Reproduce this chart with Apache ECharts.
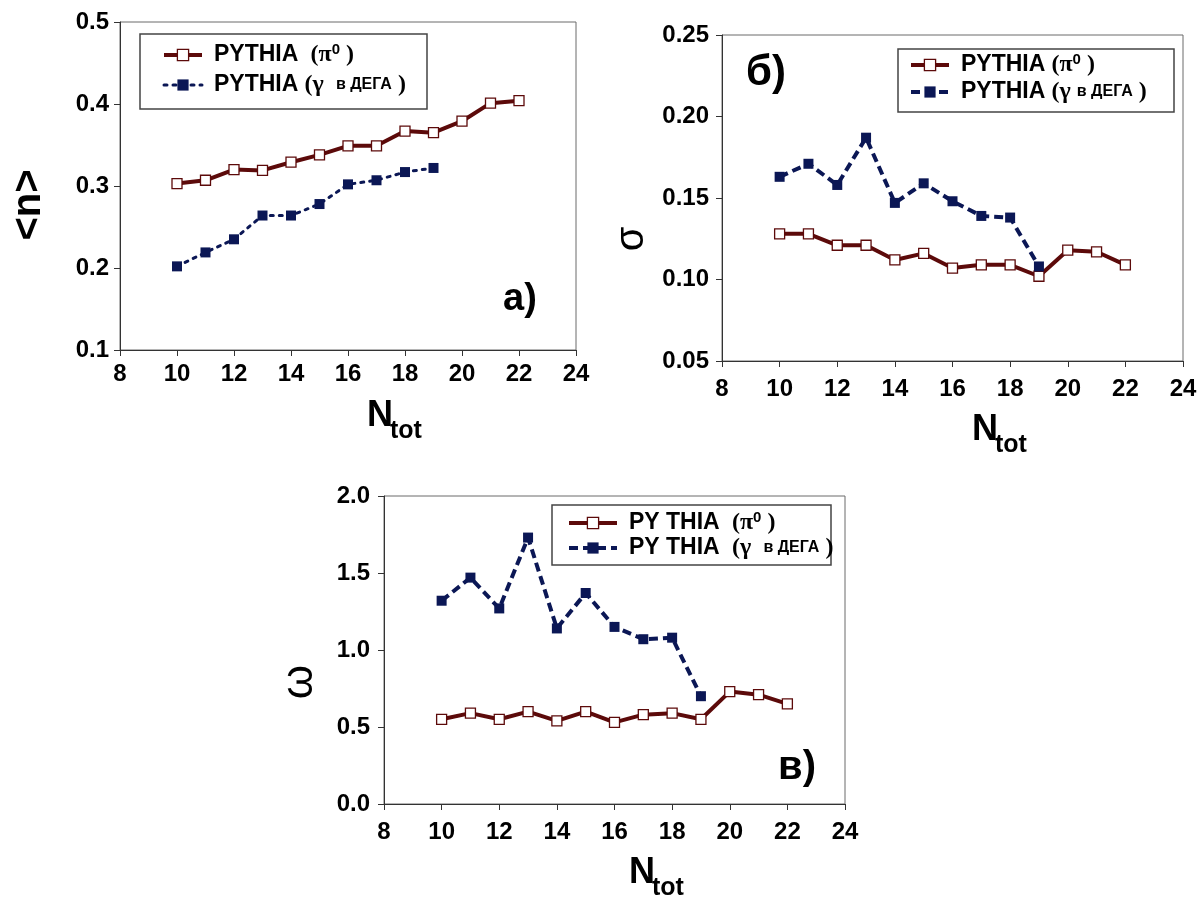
<!DOCTYPE html>
<html>
<head>
<meta charset="utf-8">
<script src="https://cdn.jsdelivr.net/npm/echarts@6/dist/echarts.min.js"></script>
<style>
  html, body { margin: 0; padding: 0; background: #ffffff; }
  #chart { width: 1200px; height: 897px; }
</style>
</head>
<body>
<div id="chart"></div>
<script>
// Multiplicity N_tot for both samples
const nTotPi = [10, 11, 12, 13, 14, 15, 16, 17, 18, 19, 20, 21, 22];
const nTotGamma = [10, 11, 12, 13, 14, 15, 16, 17, 18, 19];

// а) mean <n>
const meanPi = [0.303, 0.307, 0.320, 0.319, 0.329, 0.338, 0.349, 0.349, 0.367, 0.365, 0.379, 0.401, 0.404];
const meanGamma = [0.202, 0.219, 0.235, 0.264, 0.264, 0.278, 0.302, 0.307, 0.317, 0.322];

// б) dispersion σ
const sigmaPi = [0.128, 0.128, 0.121, 0.121, 0.112, 0.116, 0.107, 0.109, 0.109, 0.102, 0.118, 0.117, 0.109];
const sigmaGamma = [0.163, 0.171, 0.158, 0.187, 0.147, 0.159, 0.148, 0.139, 0.138, 0.108];

// в) scaled variance ω
const omegaPi = [0.55, 0.59, 0.55, 0.60, 0.54, 0.60, 0.53, 0.58, 0.59, 0.55, 0.73, 0.71, 0.65];
const omegaGamma = [1.32, 1.47, 1.27, 1.73, 1.14, 1.37, 1.15, 1.07, 1.08, 0.70];

// Axis ranges: [min, max, step]
const xRange = [8, 24, 2];
const yRangeMean = [0.1, 0.5, 0.1];
const yRangeSigma = [0.05, 0.25, 0.05];
const yRangeOmega = [0, 2, 0.5];

const seriesNames = ['PYTHIA (π0)', 'PYTHIA (γ в ДЕГА)'];
const panelLabels = ['а)', 'б)', 'в)'];
const yTitles = ['<n>', 'σ', 'ω'];

const FONT = '"Liberation Sans", Arial, Helvetica, sans-serif';
const SERIF = '"Liberation Serif", "Times New Roman", serif';
const PI_COLOR = '#5c0a0a';
const GAMMA_COLOR = '#0b1755';

const pairs = (xs, ys) => xs.map((x, i) => [x, ys[i]]);

const legendRich = {
  p: { fontFamily: FONT, fontWeight: 'bold', fontSize: 23, lineHeight: 26, color: '#000' },
  g: { fontFamily: SERIF, fontWeight: 'bold', fontSize: 24, lineHeight: 26, color: '#000' },
  sup: { fontFamily: FONT, fontWeight: 'bold', fontSize: 15, lineHeight: 14, verticalAlign: 'top', color: '#000' },
  c: { fontFamily: FONT, fontWeight: 'bold', fontSize: 16, lineHeight: 26, color: '#000' }
};

const panels = [
  {
    grid: { left: 120, top: 22, width: 456, height: 328 },
    yRange: yRangeMean, dec: 1, pi: meanPi, gamma: meanGamma,
    gammaDash: [3, 6], gammaWidth: 3, gammaCap: 'round',
    xMargin: 12, yMargin: 11,
    legend: { left: 162, top: 42, gap: 6, itemWidth: 38 },
    legendFmt: [
      '{p|PYTHIA}  {g|(π}{sup|0}{g| )}',
      '{p|PYTHIA} {g|(γ}  {c|в ДЕГА} {g|)}'
    ],
    box: [140, 34, 287, 75],
    yTitle: { x: 29, y: 205, font: 'bold 40px ' + FONT },
    panelLabel: { x: 520, y: 300, size: 38 },
    ntot: { nx: 367, ny: 416, tx: 390, ty: 431 }
  },
  {
    grid: { left: 722, top: 35, width: 461, height: 326 },
    yRange: yRangeSigma, dec: 2, pi: sigmaPi, gamma: sigmaGamma,
    gammaDash: [9, 5], gammaWidth: 4, gammaCap: 'butt',
    xMargin: 16, yMargin: 13,
    legend: { left: 909, top: 52, gap: 3, itemWidth: 38 },
    legendFmt: [
      '{p|PYTHIA} {g|(π}{sup|0}{g| )}',
      '{p|PYTHIA} {g|(γ} {c|в ДЕГА} {g|)}'
    ],
    box: [898, 49, 276, 63],
    yTitle: { x: 632, y: 239, font: 'normal 40px ' + FONT },
    panelLabel: { x: 766, y: 73, size: 42 },
    ntot: { nx: 972, ny: 430, tx: 995, ty: 445 }
  },
  {
    grid: { left: 384, top: 496, width: 461, height: 308 },
    yRange: yRangeOmega, dec: 1, pi: omegaPi, gamma: omegaGamma,
    gammaDash: [9, 5], gammaWidth: 4, gammaCap: 'butt',
    xMargin: 16, yMargin: 14,
    legend: { left: 567, top: 510, gap: 1, itemWidth: 48 },
    legendFmt: [
      '{p|PY THIA}  {g|(π}{sup|0}{g| )}',
      '{p|PY THIA}  {g|(γ}  {c|в ДЕГА} {g|)}'
    ],
    box: [552, 505, 279, 60],
    yTitle: { x: 300, y: 682, font: 'normal 44px ' + FONT },
    panelLabel: { x: 797, y: 768, size: 40 },
    ntot: { nx: 629, ny: 873, tx: 652, ty: 888 }
  }
];

const grid = [], xAxis = [], yAxis = [], series = [], legend = [], graphic = [];

panels.forEach((pn, k) => {
  grid.push(Object.assign({ show: true, borderColor: '#6a6a6a', borderWidth: 1, backgroundColor: 'transparent' }, pn.grid));

  const tickFont = { color: '#000', fontFamily: FONT, fontWeight: 'bold', fontSize: 24 };

  xAxis.push({
    type: 'value', gridIndex: k,
    min: xRange[0], max: xRange[1], interval: xRange[2],
    splitLine: { show: false },
    axisLine: { show: true, onZero: false, lineStyle: { color: '#333', width: 1 } },
    axisTick: { show: true, inside: false, length: 6, lineStyle: { color: '#333' } },
    axisLabel: Object.assign({ margin: pn.xMargin, showMinLabel: true, showMaxLabel: true }, tickFont)
  });

  yAxis.push({
    type: 'value', gridIndex: k,
    min: pn.yRange[0], max: pn.yRange[1], interval: pn.yRange[2],
    splitLine: { show: false },
    axisLine: { show: true, onZero: false, lineStyle: { color: '#333', width: 1 } },
    axisTick: { show: true, inside: false, length: 6, lineStyle: { color: '#333' } },
    axisLabel: Object.assign({ margin: pn.yMargin, showMinLabel: true, showMaxLabel: true,
                               formatter: v => Number(v).toFixed(pn.dec) }, tickFont)
  });

  const piLine = { color: PI_COLOR, width: 4 };
  const gammaLine = { color: GAMMA_COLOR, width: pn.gammaWidth, type: pn.gammaDash, cap: pn.gammaCap };

  series.push({
    name: seriesNames[0], type: 'line', xAxisIndex: k, yAxisIndex: k,
    data: pairs(nTotPi, pn.pi),
    symbol: 'rect', symbolSize: 10, showAllSymbol: true,
    lineStyle: piLine,
    itemStyle: { color: '#ffffff', borderColor: PI_COLOR, borderWidth: 1.3 },
    emphasis: { disabled: true }, z: 3
  });

  series.push({
    name: seriesNames[1], type: 'line', xAxisIndex: k, yAxisIndex: k,
    data: pairs(nTotGamma, pn.gamma),
    symbol: 'rect', symbolSize: 10, showAllSymbol: true,
    lineStyle: gammaLine,
    itemStyle: { color: GAMMA_COLOR, borderColor: GAMMA_COLOR, borderWidth: 0 },
    emphasis: { disabled: true }, z: 4
  });

  legend.push({
    orient: 'vertical', left: pn.legend.left, top: pn.legend.top,
    padding: 0, itemGap: pn.legend.gap, itemWidth: pn.legend.itemWidth, itemHeight: 14,
    selectedMode: false,
    data: [
      { name: seriesNames[0], lineStyle: piLine, itemStyle: { color: '#ffffff', borderColor: PI_COLOR, borderWidth: 1.3 } },
      { name: seriesNames[1], lineStyle: gammaLine, itemStyle: { color: GAMMA_COLOR, borderWidth: 0 } }
    ],
    formatter: name => pn.legendFmt[seriesNames.indexOf(name)],
    textStyle: { fontFamily: FONT, fontWeight: 'bold', fontSize: 22, color: '#000', padding: [0, 0, 0, 7], rich: legendRich }
  });

  // legend frame
  graphic.push({
    type: 'rect', silent: true, z: 1,
    shape: { x: pn.box[0], y: pn.box[1], width: pn.box[2], height: pn.box[3] },
    style: { fill: '#fff', stroke: '#444', lineWidth: 1.5 }
  });

  // y-axis title
  graphic.push({
    type: 'text', silent: true, x: pn.yTitle.x, y: pn.yTitle.y, rotation: Math.PI / 2,
    style: { text: yTitles[k], font: pn.yTitle.font, fill: '#000', align: 'center', verticalAlign: 'middle' }
  });

  // panel label
  graphic.push({
    type: 'text', silent: true, x: pn.panelLabel.x, y: pn.panelLabel.y,
    style: { text: panelLabels[k], font: 'bold ' + pn.panelLabel.size + 'px ' + FONT, fill: '#000', align: 'center', verticalAlign: 'middle' }
  });

  // x-axis title N_tot
  graphic.push({
    type: 'text', silent: true, x: pn.ntot.nx, y: pn.ntot.ny,
    style: { text: 'N', font: 'bold 36px ' + FONT, fill: '#000', align: 'left', verticalAlign: 'middle' }
  });
  graphic.push({
    type: 'text', silent: true, x: pn.ntot.tx, y: pn.ntot.ty,
    style: { text: 'tot', font: 'bold 25px ' + FONT, fill: '#000', align: 'left', verticalAlign: 'middle' }
  });
});

const chart = echarts.init(document.getElementById('chart'), null, { renderer: 'canvas' });
chart.setOption({
  animation: false,
  backgroundColor: '#ffffff',
  grid, xAxis, yAxis, series, legend, graphic
});
</script>
</body>
</html>
